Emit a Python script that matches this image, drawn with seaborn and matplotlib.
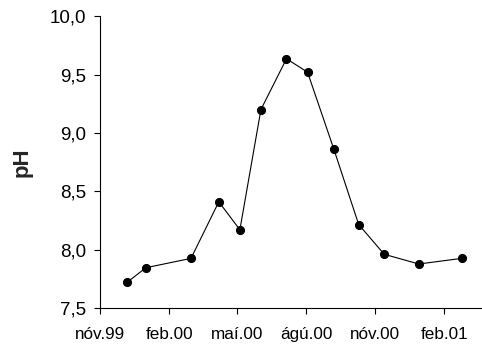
import matplotlib
matplotlib.use("Agg")
import matplotlib.pyplot as plt
import seaborn as sns
import pandas as pd

dates = ["1999-12-07", "2000-01-01", "2000-03-01", "2000-04-07", "2000-05-05",
         "2000-06-02", "2000-07-06", "2000-08-03", "2000-09-07", "2000-10-10",
         "2000-11-13", "2000-12-29", "2001-02-24"]
ph = [7.72, 7.845, 7.925, 8.41, 8.17, 9.20, 9.635, 9.52, 8.86, 8.215, 7.96, 7.877, 7.925]
tick_dates = ["1999-11-01", "2000-02-01", "2000-05-01", "2000-08-01", "2000-11-01", "2001-02-01"]
tick_labels = ["nóv.99", "feb.00", "maí.00", "ágú.00", "nóv.00", "feb.01"]
y_ticks = [7.5, 8.0, 8.5, 9.0, 9.5, 10.0]
y_tick_labels = ["7,5", "8,0", "8,5", "9,0", "9,5", "10,0"]

sns.set_style("ticks")
plt.rcParams["font.family"] = ["Liberation Sans", "DejaVu Sans"]

df = pd.DataFrame({"date": pd.to_datetime(dates), "pH": ph})

fig = plt.figure(figsize=(4.82, 3.51), dpi=100)
ax = fig.add_axes([0.2075, 0.1225, 0.7925, 0.8315])
sns.lineplot(data=df, x="date", y="pH", ax=ax, color="black", linewidth=0.8,
             marker="o", markersize=5.8, markeredgecolor="black", markerfacecolor="black")

ax.set_xlim(pd.Timestamp("1999-11-01"), pd.Timestamp("2001-03-23"))
ax.set_ylim(7.5, 10.0)
ax.set_xticks(pd.to_datetime(tick_dates))
ax.set_xticklabels(tick_labels)
ax.set_yticks(y_ticks)
ax.set_yticklabels(y_tick_labels)
ax.tick_params(axis="both", length=4, width=0.8, colors="black", direction="out")
ax.tick_params(axis="x", labelsize=12.3, pad=9.5)
ax.tick_params(axis="y", labelsize=13.5, pad=6)
for s in ["top", "right"]:
    ax.spines[s].set_visible(False)
for s in ["left", "bottom"]:
    ax.spines[s].set_linewidth(0.8)
    ax.spines[s].set_color("black")
ax.set_xlabel("")
ax.set_ylabel("pH", fontsize=16, fontweight="bold", labelpad=12)

fig.savefig("out.png", dpi=100)
